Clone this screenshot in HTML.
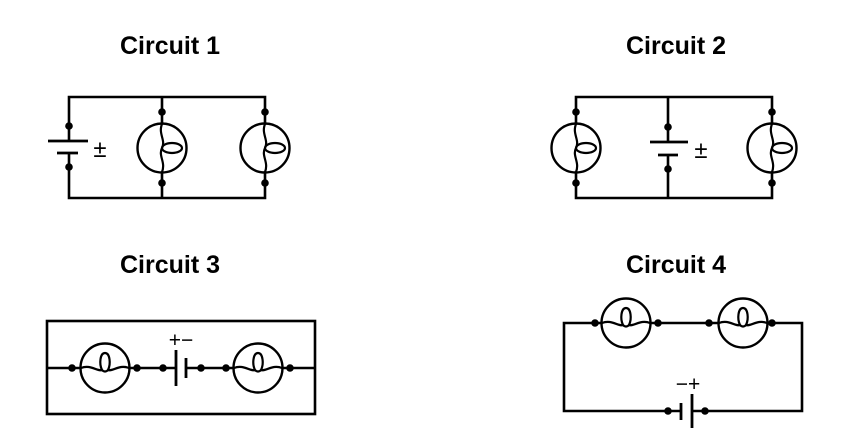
<!DOCTYPE html>
<html><head><style>body{margin:0;background:#fff}svg{display:block}</style></head><body>
<svg width="862" height="435" viewBox="0 0 862 435" xmlns="http://www.w3.org/2000/svg">
<defs>
<g id="vb">
<circle cx="0" cy="0" r="24.5" fill="none" stroke="#000" stroke-width="2.4"/>
<path d="M0,-24 C-4,-14 4,-8 0,0 C-4,8 4,14 0,24" fill="none" stroke="#000" stroke-width="2.2"/>
<ellipse cx="10" cy="0" rx="10" ry="5" fill="none" stroke="#000" stroke-width="2.2"/>
</g>
<g id="hb">
<circle cx="0" cy="0" r="24.5" fill="none" stroke="#000" stroke-width="2.4"/>
<path d="M-24,0 C-14,-4 -8,4 -2,2 M2,2 C8,4 14,-4 24,0" fill="none" stroke="#000" stroke-width="2.2"/>
<path d="M-3,2 C-6,-4 -5,-15 0,-15 C5,-15 6,-4 3,2 C1,4 -1,4 -3,2" fill="none" stroke="#000" stroke-width="2.2"/>
</g>
</defs>
<g font-family="Liberation Sans, sans-serif" font-weight="bold" font-size="25" text-anchor="middle">
<text x="170" y="54">Circuit 1</text>
<text x="676" y="54">Circuit 2</text>
<text x="170" y="273">Circuit 3</text>
<text x="676" y="273">Circuit 4</text>
</g>
<g stroke="#000" stroke-width="2.6" fill="none">
<path d="M69,141 V97 H265 V124 M162,97 V124 M162,172 V198 M265,172 V198 H69 V153"/>
<path d="M48,141 H88 M57,153 H78" stroke-width="2.8"/>
<path d="M576,124 V97 H772 V124 M668,97 V142 M668,155 V198 M576,172 V198 H772 V172"/>
<path d="M650,142 H688 M658,155 H678" stroke-width="2.8"/>
<rect x="47" y="321" width="268" height="93"/>
<path d="M47,368 H81 M129,368 H176 M186,368 H234 M282,368 H315"/>
<path d="M176,350 V386 M186,358 V378" stroke-width="2.8"/>
<path d="M602,323 H564 V411 H681 M692,411 H802 V323 H767 M650,323 H719"/>
<path d="M681,403 V420 M692,394 V428" stroke-width="2.8"/>
</g>
<use href="#vb" x="162" y="148"/>
<use href="#vb" x="265" y="148"/>
<use href="#vb" x="576" y="148"/>
<use href="#vb" x="772" y="148"/>
<use href="#hb" x="105" y="368"/>
<use href="#hb" x="258" y="368"/>
<use href="#hb" x="626" y="323"/>
<use href="#hb" x="743" y="323"/>
<g fill="#000">
<circle cx="69" cy="126" r="3.8"/><circle cx="69" cy="167" r="3.8"/>
<circle cx="162" cy="112" r="3.8"/><circle cx="162" cy="183" r="3.8"/>
<circle cx="265" cy="112" r="3.8"/><circle cx="265" cy="183" r="3.8"/>
<circle cx="576" cy="112" r="3.8"/><circle cx="576" cy="183" r="3.8"/>
<circle cx="772" cy="112" r="3.8"/><circle cx="772" cy="183" r="3.8"/>
<circle cx="668" cy="127" r="3.8"/><circle cx="668" cy="169" r="3.8"/>
<circle cx="72" cy="368" r="3.8"/><circle cx="137" cy="368" r="3.8"/>
<circle cx="163" cy="368" r="3.8"/><circle cx="201" cy="368" r="3.8"/>
<circle cx="226" cy="368" r="3.8"/><circle cx="290" cy="368" r="3.8"/>
<circle cx="595" cy="323" r="3.8"/><circle cx="658" cy="323" r="3.8"/>
<circle cx="709" cy="323" r="3.8"/><circle cx="772" cy="323" r="3.8"/>
<circle cx="668" cy="411" r="3.8"/><circle cx="705" cy="411" r="3.8"/>
</g>
<g font-family="Liberation Sans, sans-serif" font-size="24" text-anchor="middle">
<text x="100" y="157">±</text>
<text x="701" y="158">±</text>
<text x="181" y="347" font-size="21">+−</text>
<text x="688" y="391" font-size="21">−+</text>
</g>
</svg>
</body></html>
